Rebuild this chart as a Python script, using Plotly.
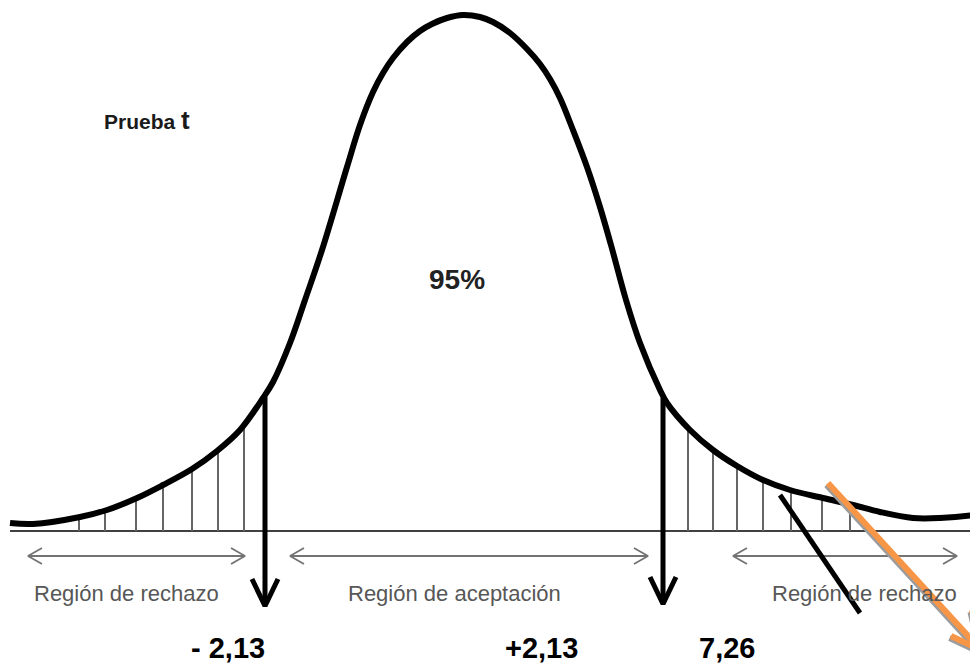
import plotly.graph_objects as go

# todo en pixeles de la imagen (y crece hacia abajo)

# curva t
curve_x = [10, 33, 80, 107, 137, 163, 192, 217, 240, 263, 273, 290, 305, 322, 347, 360, 373,
           383, 393, 407, 420, 432, 447, 463, 480, 493, 510, 527, 540, 550, 560, 573, 587,
           600, 611, 626, 640, 660, 667, 690, 713, 737, 763, 790, 823, 853, 880, 913, 940,
           973, 978]
curve_y = [523, 524, 517, 510, 498, 485, 469, 451, 430, 398, 382, 343, 300, 250, 167, 125, 92,
           73, 58, 42, 31, 24, 18, 15, 17, 22, 33, 49, 64, 79, 98, 130, 167,
           207, 245, 300, 343, 390, 403, 430, 450, 466, 480, 490, 498, 505, 512, 518, 518,
           515, 514]

base_x = [10, 978]
base_y = 531

# rayado de las regiones de rechazo
hatch_left_x = [79, 105, 136, 163, 192, 218, 244]
hatch_left_top = [518, 511, 498, 486, 469, 451, 426]
hatch_right_x = [688, 713, 737, 763, 791, 822, 850]
hatch_right_top = [430, 452, 468, 481, 492, 500, 510]

# flechas de valores criticos
crit_x = [265, 663]
crit_top = [397, 398]
crit_tip = [606, 604]

value_labels = ["- 2,13", "+2,13", "7,26"]
value_x = [228, 541, 727]
value_y = 648

region_labels = ["Región de rechazo", "Región de aceptación", "Región de rechazo"]
region_from = [28, 290, 733]
region_to = [245, 648, 957]
region_label_x = [126, 454, 864]
region_arrow_y = 556
region_label_y = 593

diag_x = [780, 860]
diag_y = [495, 613]

orange_x = [828, 981]
orange_y = [483, 650]

fig = go.Figure()

# linea base
fig.add_trace(go.Scatter(x=base_x, y=[base_y, base_y], mode='lines',
                         line=dict(color='black', width=1.5), hoverinfo='skip'))

# rayado
hx, hy = [], []
for xs, tops in [(hatch_left_x, hatch_left_top), (hatch_right_x, hatch_right_top)]:
    for x, t in zip(xs, tops):
        hx += [x, x, None]
        hy += [base_y, t, None]
fig.add_trace(go.Scatter(x=hx, y=hy, mode='lines',
                         line=dict(color='#666666', width=2), hoverinfo='skip'))

# flechas dobles grises
gx, gy = [], []
for x0, x1 in zip(region_from, region_to):
    gx += [x0, x1, None]
    gy += [region_arrow_y, region_arrow_y, None]
    gx += [x0 + 14, x0, x0 + 14, None, x1 - 14, x1, x1 - 14, None]
    gy += [region_arrow_y - 8, region_arrow_y, region_arrow_y + 8, None,
           region_arrow_y - 8, region_arrow_y, region_arrow_y + 8, None]
fig.add_trace(go.Scatter(x=gx, y=gy, mode='lines',
                         line=dict(color='#737373', width=1.8), hoverinfo='skip'))

# curva
fig.add_trace(go.Scatter(x=curve_x, y=curve_y, mode='lines',
                         line=dict(color='black', width=6, shape='spline', smoothing=1.0),
                         hoverinfo='skip'))

# flechas negras
for x, t, tip in zip(crit_x, crit_top, crit_tip):
    fig.add_trace(go.Scatter(x=[x, x], y=[t, tip - 3], mode='lines',
                             line=dict(color='black', width=5), hoverinfo='skip'))
    fig.add_trace(go.Scatter(x=[x - 13, x, x + 13], y=[tip - 27, tip, tip - 27], mode='lines',
                             line=dict(color='black', width=5), hoverinfo='skip'))

# linea diagonal negra
fig.add_trace(go.Scatter(x=diag_x, y=diag_y, mode='lines',
                         line=dict(color='black', width=5), hoverinfo='skip'))

# flecha naranja con sombra
ox, oy = orange_x[1], orange_y[1]
for dx, dy, col in [(-1.5, 2, '#9c9c9c'), (0, 0, '#F79646')]:
    fig.add_trace(go.Scatter(x=[orange_x[0] + dx, ox + dx], y=[orange_y[0] + dy, oy + dy],
                             mode='lines', line=dict(color=col, width=6), hoverinfo='skip'))
    fig.add_trace(go.Scatter(x=[ox - 30 + dx, ox + dx, ox - 9 + dx],
                             y=[oy - 14 + dy, oy + dy, oy - 40 + dy],
                             mode='lines', line=dict(color=col, width=6), hoverinfo='skip'))

# textos
fig.add_annotation(x=102, y=120, text="<b>Prueba <span style='font-size:26px'>t</span></b>",
                   showarrow=False, xanchor='left',
                   font=dict(size=21, color='#1a1a1a', family='Arial, Liberation Sans'))
fig.add_annotation(x=457, y=279, text="<b>95%</b>", showarrow=False,
                   font=dict(size=28, color='#222222', family='Arial, Liberation Sans'))
for lab, x in zip(region_labels, region_label_x):
    fig.add_annotation(x=x, y=region_label_y, text=lab, showarrow=False,
                       font=dict(size=22, color='#575757', family='Arial, Liberation Sans'))
for lab, x in zip(value_labels, value_x):
    fig.add_annotation(x=x, y=value_y, text="<b>" + lab + "</b>", showarrow=False,
                       font=dict(size=29, color='black', family='Arial, Liberation Sans'))

# la pagina pone el grafico 8px abajo y a la derecha; el rango lo compensa
fig.update_layout(
    width=978, height=667, margin=dict(l=0, r=0, t=0, b=0),
    showlegend=False, plot_bgcolor='white', paper_bgcolor='white',
    xaxis=dict(range=[8, 986], visible=False, fixedrange=True),
    yaxis=dict(range=[675, 8], visible=False, fixedrange=True),
)

fig.write_html("out.html")
